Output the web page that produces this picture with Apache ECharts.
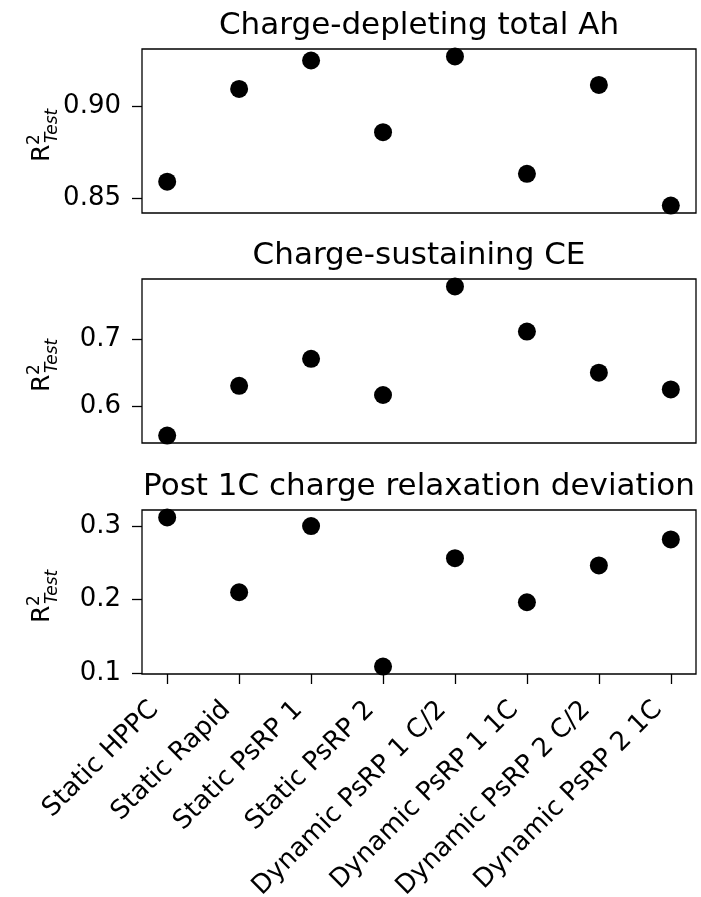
<!DOCTYPE html>
<html>
<head>
<meta charset="utf-8">
<script src="https://cdn.jsdelivr.net/npm/echarts@6/dist/echarts.min.js"></script>
<style>
  html, body { margin: 0; padding: 0; background: #fff; }
  #chart { width: 701px; height: 897px; }
</style>
</head>
<body>
<div id="chart"></div>
<script>
const categories = ['Static HPPC', 'Static Rapid', 'Static PsRP 1', 'Static PsRP 2',
    'Dynamic PsRP 1 C/2', 'Dynamic PsRP 1 1C', 'Dynamic PsRP 2 C/2', 'Dynamic PsRP 2 1C'];

const titles = ['Charge-depleting total Ah', 'Charge-sustaining CE', 'Post 1C charge relaxation deviation'];

// R2 test per category
const depletingAh = [0.859, 0.9096, 0.9251, 0.886, 0.9273, 0.8633, 0.9118, 0.846];
const sustainingCE = [0.557, 0.6307, 0.6707, 0.6171, 0.778, 0.7112, 0.6502, 0.6254];
const relaxationDev = [0.3117, 0.210, 0.300, 0.109, 0.2564, 0.1964, 0.2464, 0.2818];

const yTicks = [[0.85, 0.90], [0.6, 0.7], [0.1, 0.2, 0.3]];
const yDecimals = [2, 1, 1];

const seriesData = [depletingAh, sustainingCE, relaxationDev];

const FONT = 'DejaVu Sans';
const TICK_SIZE = 26;
const gridTops = [49, 279, 510];
const gridH = 164;
const gridLeft = 142;
const gridW = 554;

// marges de 5% comme matplotlib
function padRange(arr) {
    const lo = Math.min(...arr), hi = Math.max(...arr);
    const pad = (hi - lo) * 0.05;
    return [lo - pad, hi + pad];
}

const xIdx = categories.map((c, i) => i);

const grids = [], xAxes = [], yAxes = [], series = [], titleList = [], graphics = [];

seriesData.forEach((vals, k) => {
    const [ymin, ymax] = padRange(vals);
    grids.push({
        left: gridLeft, top: gridTops[k], width: gridW, height: gridH,
        outerBoundsMode: 'none', containLabel: false,
        show: true, borderColor: '#000', borderWidth: 1.3, backgroundColor: '#fff'
    });
    const last = k === seriesData.length - 1;
    xAxes.push({
        type: 'value', gridIndex: k, min: -0.35, max: 7.35,
        axisLine: { show: false, onZero: false },
        splitLine: { show: false },
        axisTick: {
            show: last, customValues: xIdx, length: 10, inside: false,
            lineStyle: { color: '#000', width: 1.3 }
        },
        axisLabel: {
            show: last, customValues: xIdx, rotate: 45, margin: 19,
            padding: [0, 18, 0, 0],
            fontFamily: FONT, fontSize: TICK_SIZE, color: '#000',
            formatter: v => categories[Math.round(v)]
        }
    });
    yAxes.push({
        type: 'value', gridIndex: k, min: ymin, max: ymax,
        axisLine: { show: false, onZero: false },
        splitLine: { show: false },
        axisTick: {
            show: true, customValues: yTicks[k], length: 10,
            lineStyle: { color: '#000', width: 1.3 }
        },
        axisLabel: {
            customValues: yTicks[k], margin: 21,
            fontFamily: FONT, fontSize: TICK_SIZE, color: '#000',
            formatter: v => v.toFixed(yDecimals[k])
        }
    });
    series.push({
        type: 'scatter', xAxisIndex: k, yAxisIndex: k,
        symbol: 'circle', symbolSize: 18,
        itemStyle: { color: '#000', opacity: 1 },
        data: vals.map((v, i) => [i, v])
    });
    titleList.push({
        text: titles[k], left: gridLeft + gridW / 2, top: gridTops[k] - 39,
        textAlign: 'center', padding: 0,
        textStyle: { fontFamily: FONT, fontSize: 31, fontWeight: 'normal', color: '#000' }
    });
    // étiquette R^2_Test tournée
    graphics.push({
        type: 'group', x: 42.5, y: gridTops[k] + gridH / 2 + 31, rotation: Math.PI / 2,
        children: [
            { type: 'text', x: 0, y: 0, style: { text: 'R', font: '25px "DejaVu Sans"', fill: '#000', align: 'left', verticalAlign: 'middle' } },
            { type: 'text', x: 17, y: -8, style: { text: '2', font: '17px "DejaVu Sans"', fill: '#000', align: 'left', verticalAlign: 'middle' } },
            { type: 'text', x: 19, y: 10, style: { text: 'Test', font: 'italic 17px "DejaVu Sans"', fill: '#000', align: 'left', verticalAlign: 'middle' } }
        ]
    });
});

const chart = echarts.init(document.getElementById('chart'));
chart.setOption({
    animation: false,
    backgroundColor: '#fff',
    title: titleList,
    grid: grids,
    xAxis: xAxes,
    yAxis: yAxes,
    series: series,
    graphic: graphics
});
</script>
</body>
</html>
